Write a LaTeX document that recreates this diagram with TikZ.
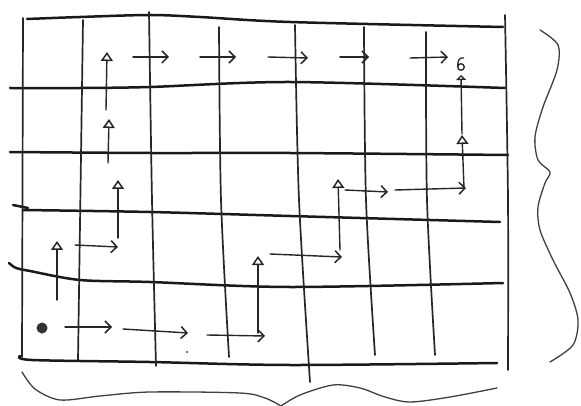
\documentclass[tikz,border=0pt]{standalone}
\usetikzlibrary{arrows.meta}
\begin{document}
\begin{tikzpicture}[x=1pt,y=-1pt,
  hline/.style={line width=2.5pt, draw=black!90, line cap=round},
  vline/.style={line width=1.7pt, draw=black!85, line cap=round},
  harrow/.style={line width=1.4pt, draw=black!85, line cap=round, -{Straight Barb[length=6pt,width=12pt,line width=1.5pt]}},
  varrow/.style={line width=1.4pt, draw=black!85, line cap=round, -{Triangle[open,length=9pt,width=12pt,line width=1.5pt]}},
  smallarrow/.style={line width=1.4pt, draw=black!85, line cap=round, -{Triangle[open,length=5pt,width=10pt,line width=1.5pt]}},
  brace/.style={line width=1.3pt, draw=black!75, line cap=round},
]
\useasboundingbox (0,0) rectangle (581,406);
\fill[white] (0,0) rectangle (581,406);

% horizontal grid lines
\draw[hline] plot[smooth] coordinates {(27,19) (80,17) (150,15) (200,17) (290,22) (503,27)};
\draw[hline] plot[smooth] coordinates {(10,88) (80,88) (150,87) (290,82) (505,88)};
\draw[hline] plot[smooth] coordinates {(10,152) (150,153) (290,153) (508,155)};
\draw[hline] plot[smooth] coordinates {(23,210) (150,212) (290,216) (500,222)};
\draw[hline] (13,205) -- (28,208);
\draw[hline] plot[smooth] coordinates {(9,263) (16,268) (30,271) (80,280) (150,282) (290,287) (503,283)};
\draw[hline] plot[smooth] coordinates {(20,356) (32,360) (150,362) (290,365) (497,363)};

% vertical grid lines
\draw[vline] (23,18) -- (22,357);
\draw[vline] (83,20) -- (78,360);
\draw[vline] plot[smooth] coordinates {(149,12) (152,200) (156,366)};
\draw[vline] plot[smooth] coordinates {(219,27) (221,200) (229,357)};
\draw[vline] plot[smooth] coordinates {(295,25) (299,200) (310,382)};
\draw[vline] plot[smooth] coordinates {(364,27) (366,200) (375,355)};
\draw[vline] plot[smooth] coordinates {(426,32) (427,200) (435,355)};
\draw[vline] plot[smooth] coordinates {(505,15) (508,200) (508,370)};

% path A
\coordinate (start) at (42,328);
\fill[black!80] (start) circle (5.5pt);
\coordinate (a1s) at (65,327);  \coordinate (a1e) at (112,327);
\coordinate (a2s) at (123,329); \coordinate (a2e) at (188,333);
\coordinate (a3s) at (207,335); \coordinate (a3e) at (265,336);
\coordinate (v1s) at (258,333); \coordinate (v1e) at (258,256);
\coordinate (a4s) at (270,254); \coordinate (a4e) at (342,257);
\coordinate (v2s) at (340,250); \coordinate (v2e) at (338,179);
\coordinate (a5s) at (345,190); \coordinate (a5e) at (388,192);
\coordinate (a6s) at (395,190); \coordinate (a6e) at (466,188);
\coordinate (v3s) at (464,188); \coordinate (v3e) at (462,135);
\coordinate (v4s) at (462,134); \coordinate (v4e) at (461,75);
\draw[harrow] (a1s) -- (a1e);
\draw[harrow] (a2s) -- (a2e);
\draw[harrow] (a3s) -- (a3e);
\draw[varrow] (v1s) -- (v1e);
\draw[harrow] (a4s) -- (a4e);
\draw[varrow] (v2s) -- (v2e);
\draw[harrow] (a5s) -- (a5e);
\draw[harrow] (a6s) -- (a6e);
\draw[varrow] (v3s) -- (v3e);
\draw[smallarrow] (v4s) -- (v4e);

% path B
\coordinate (w1s) at (57,300); \coordinate (w1e) at (57,241);
\coordinate (b1s) at (75,245); \coordinate (b1e) at (118,247);
\coordinate (w2s) at (118,238); \coordinate (w2e) at (118,180);
\coordinate (w3s) at (108,163); \coordinate (w3e) at (109,119);
\coordinate (w4s) at (106,110); \coordinate (w4e) at (107,52);
\coordinate (b2s) at (133,57); \coordinate (b2e) at (169,57);
\coordinate (b3s) at (200,57); \coordinate (b3e) at (236,57);
\coordinate (b4s) at (268,57); \coordinate (b4e) at (308,58);
\coordinate (b5s) at (340,57); \coordinate (b5e) at (369,57);
\coordinate (b6s) at (410,58); \coordinate (b6e) at (448,57);
\draw[varrow] (w1s) -- (w1e);
\draw[harrow] (b1s) -- (b1e);
\draw[varrow] (w2s) -- (w2e);
\draw[varrow] (w3s) -- (w3e);
\draw[varrow] (w4s) -- (w4e);
\draw[harrow] (b2s) -- (b2e);
\draw[harrow] (b3s) -- (b3e);
\draw[harrow] (b4s) -- (b4e);
\draw[harrow] (b5s) -- (b5e);
\draw[harrow] (b6s) -- (b6e);

% end mark
\coordinate (end) at (461,67);
\draw[line width=1.3pt, black!85] (end) circle (3.3pt);
\draw[line width=1.3pt, black!85] (458,67) .. controls (457,60) and (460,57) .. (464,58);

% stray dot
\fill[black!70] (187,352) circle (1.1pt);

% right brace
\draw[brace] plot[smooth] coordinates {(540,30) (558,45) (557,70) (543,107) (535,137) (538,160) (550,172) (545,183) (538,207) (540,230) (553,260) (570,293) (578,320) (573,345) (550,362)};
% bottom brace
\draw[brace] plot[smooth] coordinates {(22,372) (35,389) (60,400) (100,396) (150,392) (240,393) (265,398) (281,406)};
\draw[brace] plot[smooth] coordinates {(281,406) (300,395) (333,385) (360,388) (385,397) (410,402) (450,397) (497,388)};
\end{tikzpicture}
\end{document}
